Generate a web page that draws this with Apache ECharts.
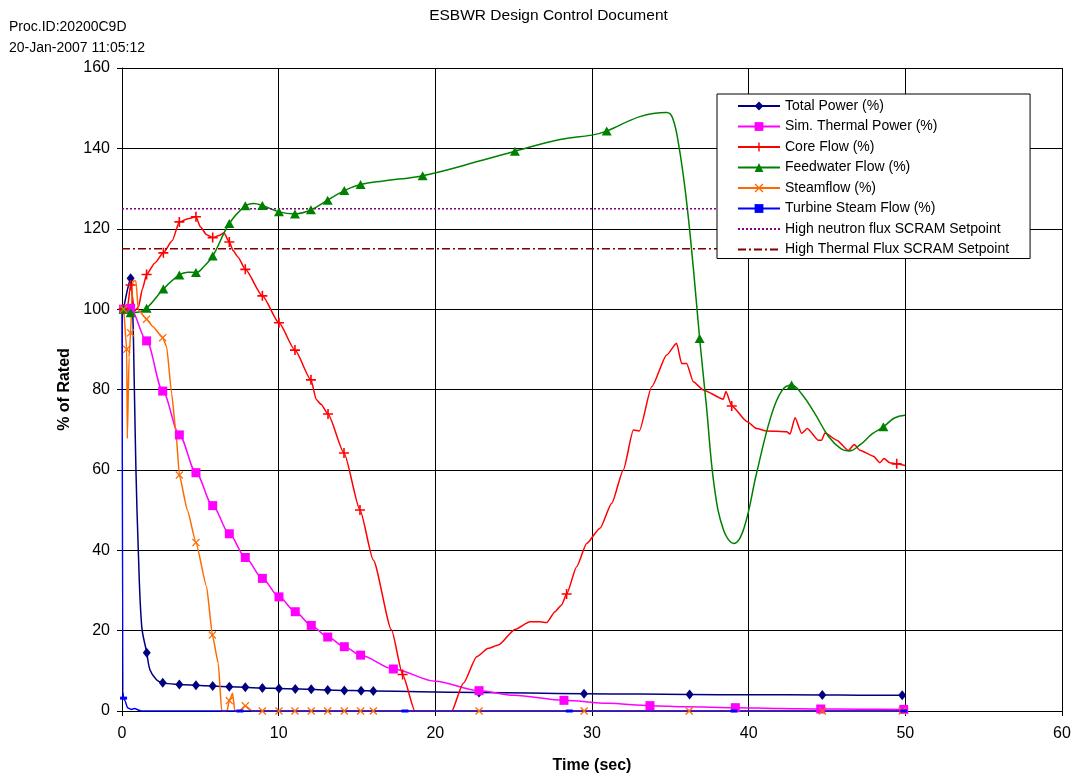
<!DOCTYPE html>
<html><head><meta charset="utf-8">
<script src="https://cdn.jsdelivr.net/npm/echarts@6/dist/echarts.min.js"></script>
<style>html,body{margin:0;padding:0;background:#fff}#c{width:1073px;height:777px}</style>
</head><body><div id="c"></div>
<script>
// ---- tick labels ----
const xTicks = [0, 10, 20, 30, 40, 50, 60];
const yTicks = [0, 20, 40, 60, 80, 100, 120, 140, 160];

// ---- series names ----
const seriesNames = ['Total Power (%)', 'Sim. Thermal Power (%)', 'Core Flow (%)', 'Feedwater Flow (%)',
  'Steamflow (%)', 'Turbine Steam Flow (%)', 'High neutron flux SCRAM Setpoint', 'High Thermal Flux SCRAM Setpoint'];

// ---- Total Power ----
const tpCurve = [[0.3,104],[0.68,100],[0.79,80],[0.89,60],[1.04,40],[1.26,21],[1.79,10.2],[2.2,7.8],[19,4.8],[26,4.45],[33,4.2],[40,4.05],[47,3.95]];
const tpMarks = [[0.1,100],[0.55,107.7],[1.58,14.5],[2.6,7.0],[3.66,6.6],[4.72,6.4],[5.79,6.2],[6.85,6.05],[7.87,5.9],[8.96,5.7],[10.02,5.6],[11.06,5.5],[12.08,5.4],[13.13,5.2],[14.19,5.1],[15.26,5.05],[16.04,5.0],[22.79,4.6],[29.49,4.3],[36.23,4.1],[44.7,4.0],[49.8,3.9]];

// ---- Sim. Thermal Power ----
const stCurve = [[0,100],[0.3,100.2],[20,7.4],[25,3.9],[31,1.9],[36,1.05],[42,0.62],[47,0.45]];
const stMarks = [[0.1,100],[0.55,100.2],[1.57,92.1],[2.6,79.6],[3.66,68.7],[4.72,59.3],[5.79,51.1],[6.85,44.1],[7.87,38.2],[8.96,33.0],[10.02,28.4],[11.06,24.7],[12.08,21.3],[13.13,18.4],[14.19,16.0],[15.23,13.9],[17.32,10.45],[22.79,5.06],[28.21,2.65],[33.7,1.33],[39.15,0.83],[44.6,0.5],[49.9,0.4]];

// ---- Core Flow ----
const cfCurve = [[0,100],[0.35,100.5],[0.8,99.5],[1.05,100.5],[1.3,105],[2.1,111.5],[3.2,117],[4.2,122.5],[5.0,120.5],[5.4,118.5],[6.2,118.3],[6.5,119],[7.1,114.5],[7.4,113],[12.4,77.5],[12.7,76.3],[16.04,37.6],[17.2,20.2],[18.7,0],[19.3,-5],[20.5,-5],[20.98,-0.6],[21.79,6.9],[22.64,13.5],[23.38,15.6],[24.02,16.4],[25.08,20.3],[26.04,22.2],[26.68,22.2],[27.11,22.0],[27.64,24.7],[28.06,26.4],[29.02,35.9],[29.66,41.7],[30.51,45.5],[31.26,51.7],[32.0,60.0],[32.64,69.9],[33.02,69.7],[33.81,80.7],[34.77,88.6],[35.4,91.5],[35.72,86.5],[36.04,86.5],[36.47,81.9],[37.1,79.9],[38.38,77.6],[38.55,79.5],[39.9,72.0],[40.51,70.3],[41.15,69.7],[42.43,69.5],[42.64,68.9],[42.96,73.0],[43.38,69.1],[43.74,70.3],[44.44,67.4],[44.66,67.4],[44.87,69.2],[45.62,67.4],[46.36,64.8],[46.74,66.3],[47.1,64.9],[47.96,63.4],[48.38,61.8],[48.64,62.8],[49.0,61.8],[49.98,61.1]];
const cfMarks = [[0.1,100],[0.55,106],[1.57,108.6],[2.64,114.0],[3.66,121.7],[4.72,123.0],[5.79,117.8],[6.85,116.7],[7.87,109.9],[8.96,103.3],[10.02,96.6],[11.04,89.8],[12.06,82.4],[13.15,73.9],[14.17,64.2],[15.19,50.0],[17.91,9.1],[28.38,29.1],[38.92,75.9],[49.45,61.5]];

// ---- Feedwater Flow ----
const fwCurve = [[0,100],[1.0,99.2],[4.2,109.2],[5.2,110.5],[8.4,126.3],[16.68,131.9],[23.06,137.1],[27.96,142.2],[29.98,143.3],[33.06,147.9],[34.77,148.9],[35.15,147.5],[35.55,140.5],[36.0,128],[36.45,111],[37.3,76],[37.8,56],[38.4,45.0],[39.06,41.7],[39.7,45.5],[40.5,59.1],[41.4,73],[42.1,79.6],[43.4,78.8],[44.2,74.2],[45.1,68.3],[45.9,65.2],[46.4,64.7],[47.1,66.2],[47.9,69.0],[49.3,72.9],[49.98,73.6]];
const fwMarks = [[0.1,100],[0.55,99.1],[1.57,100.2],[2.64,105.0],[3.66,108.5],[4.72,109.1],[5.79,113.2],[6.85,121.3],[7.87,125.7],[8.96,125.8],[10.02,124.2],[11.04,123.7],[12.06,124.7],[13.13,127.1],[14.19,129.5],[15.23,131.0],[19.19,133.2],[25.08,139.3],[30.94,144.3],[36.87,92.7],[42.74,81.1],[48.6,70.7]];

// ---- Steamflow ----
const sfCurve = [[0,100],[0.34,67.8],[0.45,88],[0.66,106],[0.72,107],[0.89,107],[1.04,99.8],[1.98,95.6],[2.85,90.6],[3.17,79.0],[3.45,69.1],[4.17,50.0],[5.4,30.9],[6.15,11.8],[6.36,0],[6.7,0],[7.06,4.4],[7.2,0],[7.5,0],[8.3,0],[30,0],[50,0]];
const sfMarks = [[0.1,100],[0.3,90],[0.55,94.1],[1.57,97.5],[2.6,92.9],[3.66,58.7],[4.72,41.9],[5.77,18.9],[6.85,2.6],[7.87,1.3],[8.96,0],[10.02,0],[11.04,0],[12.08,0],[13.13,0],[14.19,0],[15.23,0],[16.04,0],[22.79,0],[29.5,0],[36.2,0],[44.7,0],[49.8,0]];

// ---- Turbine Steam Flow ----
const tsCurve = [[0,100],[0.05,5],[0.2,2.5],[0.35,0.8],[0.6,0.4],[0.8,0.6],[1.2,0],[50,0]];
const tsMarks = [[0.1,3.2],[7.53,0],[18.06,0],[28.55,0],[39.06,0],[49.9,0]];

// ---- SCRAM setpoints ----
const neutronSP = [[0,125],[50,125]];
const thermalSP = [[0,115],[50,115]];

const FONT = "'Liberation Sans', Arial, sans-serif";
const PLUS = 'path://M4.2,0 H5.8 V4.2 H10 V5.8 H5.8 V10 H4.2 V5.8 H0 V4.2 H4.2 Z';
const CROSS = 'path://M0,1.1 L1.1,0 L5,3.9 L8.9,0 L10,1.1 L6.1,5 L10,8.9 L8.9,10 L5,6.1 L1.1,10 L0,8.9 L3.9,5 Z';

function build(curve, marks) {
  const pts = curve.map(p => ({ value: p, symbol: 'none' })).concat(marks.map(p => ({ value: p })));
  pts.sort((a, b) => a.value[0] - b.value[0]);
  return pts;
}
function lineSeries(name, color, symbol, size, curve, marks, smooth, mono) {
  return {
    name, type: 'line', data: build(curve, marks), symbol, symbolSize: size,
    showSymbol: true, showAllSymbol: true, smooth, smoothMonotone: mono ? 'x' : null,
    lineStyle: { color, width: 1.5 }, itemStyle: { color }, clip: true,
    emphasis: { disabled: true }, animation: false
  };
}

const series = [
  lineSeries(seriesNames[0], '#000080', 'diamond', [8, 10], tpCurve, tpMarks, 0.35, false),
  lineSeries(seriesNames[1], '#FF00FF', 'rect', 9, stCurve, stMarks, 0.3, true),
  lineSeries(seriesNames[2], '#FF0000', PLUS, 10, cfCurve, cfMarks, 0.2, true),
  lineSeries(seriesNames[3], '#008000', 'triangle', [10, 9], fwCurve, fwMarks, 0.4, false),
  lineSeries(seriesNames[4], '#FF6A00', CROSS, 8, sfCurve, sfMarks, 0.15, true),
  lineSeries(seriesNames[5], '#0000FF', 'rect', [7, 3], tsCurve, tsMarks, 0.1, true),
  { name: seriesNames[6], type: 'line', data: neutronSP, symbol: 'none', lineStyle: { color: '#800080', width: 1.5, type: [2, 2] }, itemStyle: { color: '#800080' }, animation: false, emphasis: { disabled: true } },
  { name: seriesNames[7], type: 'line', data: thermalSP, symbol: 'none', lineStyle: { color: '#800000', width: 1.5, type: [8, 3, 2, 3] }, itemStyle: { color: '#800000' }, animation: false, emphasis: { disabled: true } }
];

const legendData = seriesNames.map((n, i) => i >= 6 ? { name: n, itemStyle: { opacity: 0 } } : { name: n });

const chart = echarts.init(document.getElementById('c'), null, { renderer: 'canvas' });
chart.setOption({
  animation: false,
  backgroundColor: '#fff',
  textStyle: { fontFamily: FONT },
  graphic: [
    { type: 'text', style: { x: 548.5, y: 16, text: 'ESBWR Design Control Document', font: '15.5px ' + FONT, fill: '#000', textAlign: 'center', textVerticalAlign: 'middle' } },
    { type: 'text', style: { x: 9, y: 27.5, text: 'Proc.ID:20200C9D', font: '14px ' + FONT, fill: '#000', textAlign: 'left', textVerticalAlign: 'middle' } },
    { type: 'text', style: { x: 9, y: 48.5, text: '20-Jan-2007 11:05:12', font: '14px ' + FONT, fill: '#000', textAlign: 'left', textVerticalAlign: 'middle' } }
  ],
  grid: { left: 122, right: 11, top: 68, bottom: 66, containLabel: false, outerBoundsMode: 'none' },
  legend: {
    orient: 'vertical', left: 717, top: 94, itemWidth: 42, itemHeight: 11, itemGap: 6.5,
    padding: [5, 21, 2, 20], backgroundColor: '#fff', borderColor: '#000', borderWidth: 1, borderRadius: 0,
    textStyle: { fontSize: 14, color: '#000', fontFamily: FONT },
    data: legendData, selectedMode: false
  },
  xAxis: {
    type: 'value', min: xTicks[0], max: xTicks[xTicks.length - 1], interval: xTicks[1] - xTicks[0],
    name: 'Time (sec)', nameLocation: 'middle', nameGap: 47,
    nameTextStyle: { fontSize: 16, fontWeight: 'bold', color: '#000', fontFamily: FONT },
    axisLine: { show: true, lineStyle: { color: '#000', width: 1 } },
    axisTick: { show: true, length: 5, lineStyle: { color: '#000' } },
    axisLabel: { fontSize: 16, color: '#000', margin: 15, fontFamily: FONT },
    splitLine: { show: true, lineStyle: { color: '#000', width: 1 } }
  },
  yAxis: {
    type: 'value', min: yTicks[0], max: yTicks[yTicks.length - 1], interval: yTicks[1] - yTicks[0],
    name: '% of Rated', nameLocation: 'middle', nameGap: 47,
    nameTextStyle: { fontSize: 16, fontWeight: 'bold', color: '#000', fontFamily: FONT },
    axisLine: { show: true, lineStyle: { color: '#000', width: 1 } },
    axisTick: { show: true, length: 5, lineStyle: { color: '#000' } },
    axisLabel: { fontSize: 16, color: '#000', margin: 12, fontFamily: FONT },
    splitLine: { show: true, lineStyle: { color: '#000', width: 1 } }
  },
  series
});
</script>
</body></html>
